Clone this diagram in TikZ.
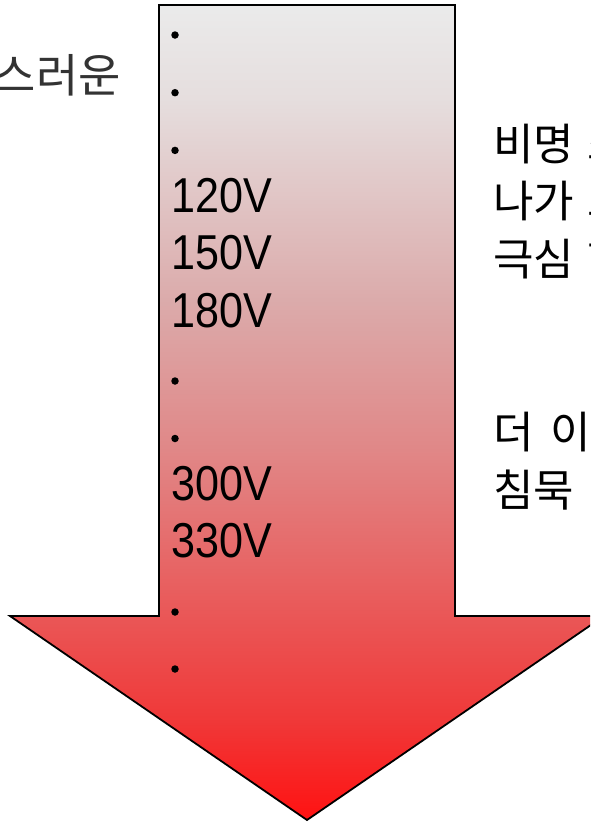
\documentclass[tikz,border=0pt]{standalone}
\usepackage{fontspec}
\usepackage{graphicx}
\setmainfont{Liberation Sans}
\newfontfamily\krfont{Noto Sans CJK KR}
\pgfdeclareverticalshading{arrowgrad}{100bp}{%
  rgb(0bp)=(1,0.07,0.07);
  rgb(25bp)=(1,0.07,0.07);
  rgb(31.1bp)=(0.94,0.22,0.22);
  rgb(47.7bp)=(0.88,0.53,0.53);
  rgb(56.9bp)=(0.86,0.67,0.67);
  rgb(69.2bp)=(0.90,0.87,0.87);
  rgb(75bp)=(0.92,0.92,0.92);
  rgb(100bp)=(0.92,0.92,0.92)}
\tikzset{
  volt/.style={anchor=base west, inner sep=0pt, font=\fontsize{49}{58}\selectfont},
  krtext/.style={inner sep=0pt, font=\krfont\fontsize{44}{50}\selectfont},
  bulletdot/.style={fill=black, draw=none, circle, inner sep=0pt, minimum size=7.5pt}
}
\begin{document}
\begin{tikzpicture}[x=1pt,y=-1pt]
\useasboundingbox (0,0) rectangle (590,822);
\clip (0,0) rectangle (590,822);
\path[shading=arrowgrad, draw=black, line width=1.8pt, line join=miter]
  (159,5) -- (455,5) -- (455,616) -- (604,616) -- (307,820) -- (10,616) -- (159,616) -- cycle;
% bullets
\node[bulletdot] (d1) at (175,35) {};
\node[bulletdot] (d2) at (175,92.7) {};
\node[bulletdot] (d3) at (175,150.4) {};
\node[bulletdot] (d4) at (175,381) {};
\node[bulletdot] (d5) at (175,438.5) {};
\node[bulletdot] (d6) at (175,612) {};
\node[bulletdot] (d7) at (175,669) {};
% voltages
\node[volt] (v1) at (171,212) {\scalebox{0.88}[1]{120V}};
\node[volt] (v2) at (171,269.5) {\scalebox{0.88}[1]{150V}};
\node[volt] (v3) at (171,327) {\scalebox{0.88}[1]{180V}};
\node[volt] (v4) at (171,500) {\scalebox{0.88}[1]{300V}};
\node[volt] (v5) at (171,557.5) {\scalebox{0.88}[1]{330V}};
% left text
\node[krtext, anchor=base east, text=black!80, font=\krfont\fontsize{46}{50}\selectfont] (l1) at (121,92) {자연스러운};
% right text
\node[krtext, anchor=base west] (r1) at (493,160) {비명\hspace{13pt}소리};
\node[krtext, anchor=base west] (r2) at (493,217.7) {나가\hspace{13pt}고};
\node[krtext, anchor=base west] (r3) at (493,275.4) {극심\hspace{13pt}한};
\node[krtext, anchor=base west] (r4) at (493,448.5) {더\hspace{17pt}이상};
\node[krtext, anchor=base west] (r5) at (493,506.2) {침묵};
\end{tikzpicture}
\end{document}
